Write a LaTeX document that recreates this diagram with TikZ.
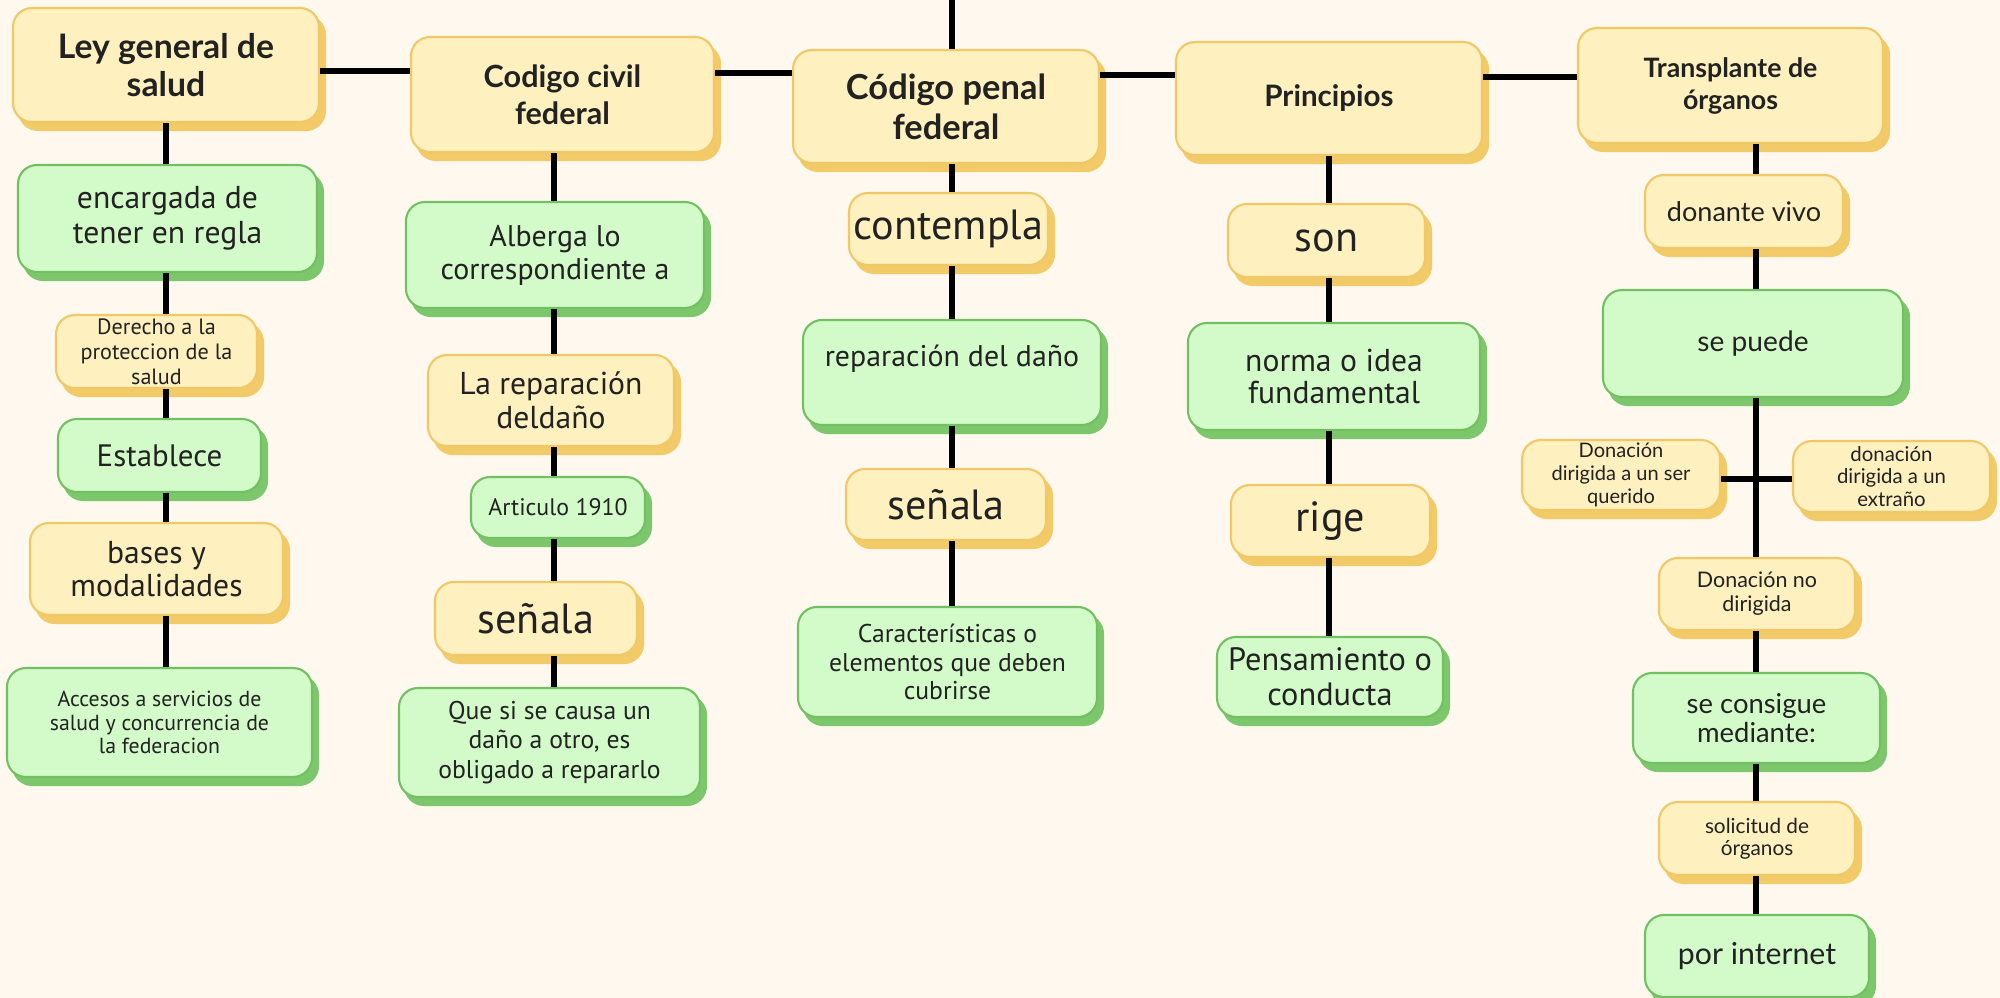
\documentclass[tikz,border=0pt]{standalone}
\usepackage{fontspec}
\setmainfont{PT Sans}
\newfontfamily\lato{Lato}
\usetikzlibrary{shadows}
\definecolor{bgc}{HTML}{FEF8EF}
\definecolor{yfill}{HTML}{FFF0BF}
\definecolor{yline}{HTML}{F0C866}
\definecolor{yshad}{HTML}{F3CA68}
\definecolor{gfill}{HTML}{D3FBC9}
\definecolor{gline}{HTML}{72C062}
\definecolor{gshad}{HTML}{7CC76B}
\definecolor{txt}{HTML}{222222}
\newcommand{\fs}[2]{\fontsize{#1}{#2}\selectfont}
\begin{document}
\begin{tikzpicture}[x=0.01cm,y=-0.01cm,
 box/.style={rounded corners=0.19cm, line width=0.6pt, inner sep=0pt, align=center, text=txt},
 ybox/.style={box, fill=yfill, draw=yline, general shadow={fill=yshad, draw=yshad, shadow xshift=0.06cm, shadow yshift=-0.08cm}},
 gbox/.style={box, fill=gfill, draw=gline, general shadow={fill=gshad, draw=gshad, shadow xshift=0.06cm, shadow yshift=-0.08cm}},
 sz/.style 2 args={minimum width=#1*0.01cm, minimum height=#2*0.01cm},
 fp/.style 2 args={font=\fs{#1}{#2}},
 fl/.style 2 args={font=\lato\fs{#1}{#2}},
 fb/.style 2 args={font=\lato\bfseries\fs{#1}{#2}},
 conn/.style={line width=1.6pt, black}]
\fill[bgc] (0,0) rectangle (2000,998);
\useasboundingbox (0,0) rectangle (2000,998);

% column 1
\node[ybox, sz={306}{114}, fb={9.6}{10.8}] (A1) at (166,65) {Ley general de\\salud};
\node[gbox, sz={299}{107}, fp={9}{10}] (A2) at (167.5,218.5) {encargada de\\tener en regla};
\node[ybox, sz={201}{73}, fp={6.3}{7.1}] (A3) at (156.5,351.5) {Derecho a la\\proteccion de la\\salud};
\node[gbox, sz={203}{73}, fp={8.8}{10}] (A4) at (159.5,455.5) {Establece};
\node[ybox, sz={253}{92}, fp={9}{9.6}] (A5) at (156.5,569) {bases y\\modalidades};
\node[gbox, sz={305}{109}, fp={6.2}{6.6}] (A6) at (159.5,722.5) {Accesos a servicios de\\salud y concurrencia de\\la federacion};

% column 2
\node[ybox, sz={303}{115}, fb={8.7}{10.5}] (B1) at (562.5,94.5) {Codigo civil\\federal};
\node[gbox, sz={298}{106}, fp={8.5}{9.4}] (B2) at (555,255) {Alberga lo\\correspondiente a};
\node[ybox, sz={246}{91}, fp={9}{9.7}] (B3) at (551,400.5) {La reparación\\deldaño};
\node[gbox, sz={174}{61}, fp={6.8}{8}] (B4) at (558,507.5) {Articulo 1910};
\node[ybox, sz={202}{73}, fp={12}{14}] (B5) at (536,618.5) {señala};
\node[gbox, sz={301}{109}, fp={7.3}{8.5}] (B6) at (549.5,742.5) {Que si se causa un\\daño a otro, es\\obligado a repararlo};

% column 3
\node[ybox, sz={306}{113}, fb={9.8}{11.4}] (C1) at (946,106.5) {Código penal\\federal};
\node[ybox, sz={199}{72}, fp={12}{14}] (C2) at (948.5,229) {contempla};
\node[gbox, sz={298}{105}, fp={8.5}{9.6}] (C3) at (952,372.5) {reparación del daño\\\mbox{}};
\node[ybox, sz={200}{71}, fp={12}{14}] (C4) at (946,504.5) {señala};
\node[gbox, sz={299}{110}, fp={7.3}{8}] (C5) at (947.5,662) {Características o\\elementos que deben\\cubrirse};

% column 4
\node[ybox, sz={306}{113}, fb={8.4}{10}] (D1) at (1329,98.5) {Principios};
\node[ybox, sz={197}{73}, fp={12}{14}] (D2) at (1326.5,240.5) {son};
\node[gbox, sz={292}{107}, fp={9}{9.1}] (D3) at (1334,376.5) {norma o idea\\fundamental};
\node[ybox, sz={199}{72}, fp={12}{14}] (D4) at (1330.5,521) {rige};
\node[gbox, sz={226}{80}, fp={9.2}{10}] (D5) at (1330,677) {Pensamiento o\\conducta};

% column 5
\node[ybox, sz={305}{115}, fb={7.6}{9.1}] (E1) at (1730.5,85.5) {Transplante de\\órganos};
\node[ybox, sz={198}{73}, fl={7.7}{9}] (E2) at (1744,211.5) {donante vivo};
\node[gbox, sz={300}{107}, fl={8}{9}] (E3) at (1753,343.5) {se puede};
\node[ybox, sz={198}{70}, fl={5.7}{6.5}] (E4) at (1621,475) {Donación\\dirigida a un ser\\querido};
\node[ybox, sz={197}{71}, fl={5.8}{6.5}] (E5) at (1891.5,476.5) {donación\\dirigida a un\\extraño};
\node[ybox, sz={196}{72}, fl={6.1}{6.9}] (E6) at (1757,594) {Donación no\\dirigida};
\node[gbox, sz={247}{90}, fl={7.8}{8.2}] (E7) at (1756.5,718) {se consigue\\mediante:};
\node[ybox, sz={196}{73}, fl={5.9}{6.3}] (E8) at (1757,838.5) {solicitud de\\órganos};
\node[gbox, sz={224}{82}, fl={8.6}{10}] (E9) at (1757,956) {por internet};

% column coordinates
\coordinate (k1) at (166,0);
\coordinate (k2) at (554,0);
\coordinate (k3) at (952,0);
\coordinate (k4) at (1329,0);
\coordinate (k5) at (1756,0);
\coordinate (h1) at (0,71);
\coordinate (h2) at (0,73);
\coordinate (h3) at (0,75);
\coordinate (h4) at (0,77);
\coordinate (h5) at (0,479);
\coordinate (top) at (952,0);

% top and horizontal connectors
\draw[conn] (top) -- (C1.north -| top);
\draw[conn] (A1.east |- h1) -- (B1.west |- h1);
\draw[conn] (B1.east |- h2) -- (C1.west |- h2);
\draw[conn] (C1.east |- h3) -- (D1.west |- h3);
\draw[conn] (D1.east |- h4) -- (E1.west |- h4);

% column 1
\draw[conn] (A1.south -| k1) -- (A2.north -| k1);
\draw[conn] (A2.south -| k1) -- (A3.north -| k1);
\draw[conn] (A3.south -| k1) -- (A4.north -| k1);
\draw[conn] (A4.south -| k1) -- (A5.north -| k1);
\draw[conn] (A5.south -| k1) -- (A6.north -| k1);
% column 2
\draw[conn] (B1.south -| k2) -- (B2.north -| k2);
\draw[conn] (B2.south -| k2) -- (B3.north -| k2);
\draw[conn] (B3.south -| k2) -- (B4.north -| k2);
\draw[conn] (B4.south -| k2) -- (B5.north -| k2);
\draw[conn] (B5.south -| k2) -- (B6.north -| k2);
% column 3
\draw[conn] (C1.south -| k3) -- (C2.north -| k3);
\draw[conn] (C2.south -| k3) -- (C3.north -| k3);
\draw[conn] (C3.south -| k3) -- (C4.north -| k3);
\draw[conn] (C4.south -| k3) -- (C5.north -| k3);
% column 4
\draw[conn] (D1.south -| k4) -- (D2.north -| k4);
\draw[conn] (D2.south -| k4) -- (D3.north -| k4);
\draw[conn] (D3.south -| k4) -- (D4.north -| k4);
\draw[conn] (D4.south -| k4) -- (D5.north -| k4);
% column 5
\draw[conn] (E1.south -| k5) -- (E2.north -| k5);
\draw[conn] (E2.south -| k5) -- (E3.north -| k5);
\draw[conn] (E3.south -| k5) -- (E6.north -| k5);
\draw[conn] (E4.east |- h5) -- (E5.west |- h5);
\draw[conn] (E6.south -| k5) -- (E7.north -| k5);
\draw[conn] (E7.south -| k5) -- (E8.north -| k5);
\draw[conn] (E8.south -| k5) -- (E9.north -| k5);
\end{tikzpicture}
\end{document}
